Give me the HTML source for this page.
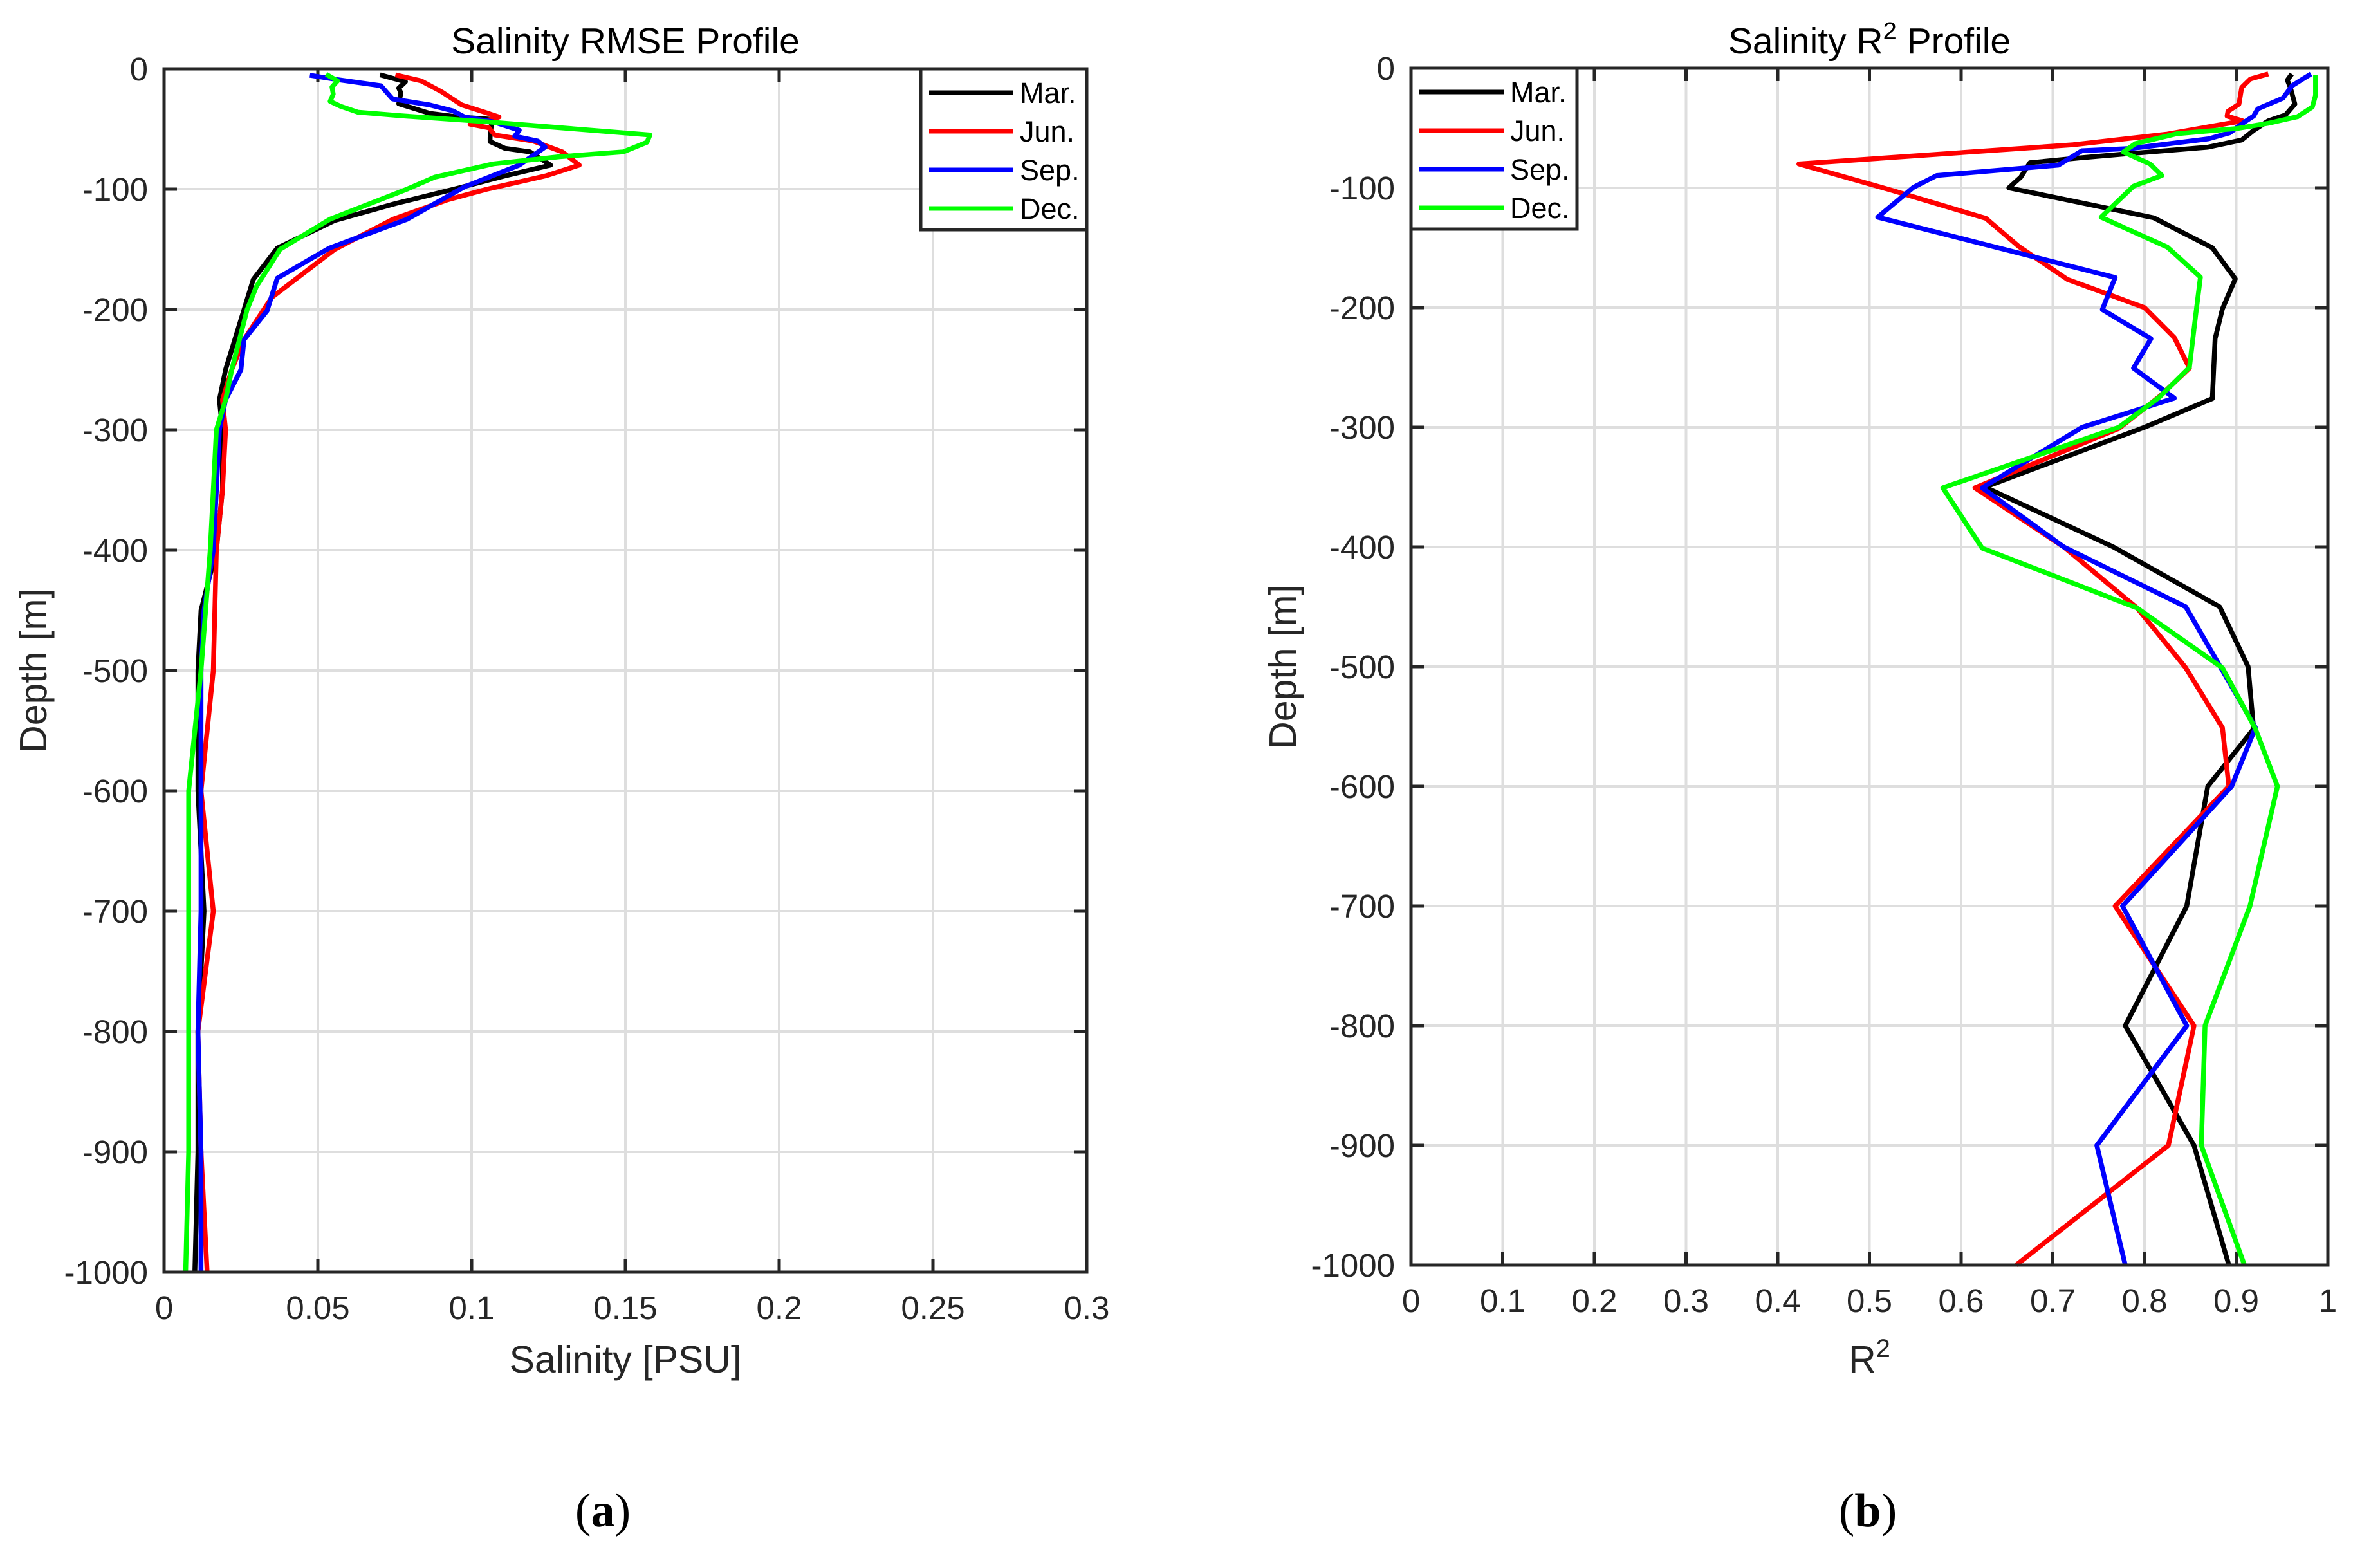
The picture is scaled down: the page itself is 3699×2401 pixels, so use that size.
<!DOCTYPE html>
<html><head><meta charset="utf-8">
<style>
html,body{margin:0;padding:0;background:#fff;}
svg{display:block;font-family:"Liberation Sans",Arial,sans-serif;}
</style></head>
<body>
<svg id="fig" width="3699" height="2401" viewBox="0 0 3699 2401" xmlns="http://www.w3.org/2000/svg">
<g id="pa"></g>
<g id="pb"></g>
<text x="937" y="2372" text-anchor="middle" font-family="Liberation Serif,serif" font-size="74">(<tspan font-weight="bold">a</tspan>)</text>
<text x="2903" y="2372" text-anchor="middle" font-family="Liberation Serif,serif" font-size="74">(<tspan font-weight="bold">b</tspan>)</text>
</svg>
<script>
// ---- Panel (a) data: Salinity RMSE ----
const seriesNames = ["Mar.","Jun.","Sep.","Dec."];
const seriesColors = ["#000000","#ff0000","#0000ff","#00ff00"];
const rmseMarVal = [0.0702,0.0785,0.0763,0.077,0.0763,0.0864,0.0958,0.1066,0.106,0.106,0.1108,0.119,0.1257,0.1108,0.0958,0.0752,0.0555,0.0368,0.029,0.026,0.020,0.018,0.019,0.019,0.017,0.012,0.011,0.011,0.013,0.011,0.011,0.010];
const rmseMarDep = [-5,-10.7,-16,-20,-29,-37,-40,-42,-57,-60.5,-66,-69,-80,-89,-99,-112,-126,-149,-175,-200,-250,-275,-300,-350,-400,-450,-500,-600,-700,-800,-900,-1000];
const rmseJunVal = [0.0752,0.0836,0.0902,0.0968,0.1042,0.1089,0.1062,0.0995,0.1056,0.1075,0.120,0.1295,0.135,0.124,0.105,0.092,0.0744,0.0555,0.035,0.026,0.022,0.019,0.020,0.019,0.017,0.016,0.012,0.016,0.011,0.012,0.014];
const rmseJunDep = [-5,-10,-19,-30,-36,-40,-42,-46,-49,-55,-60,-69,-80,-89,-100,-109,-125,-150,-190,-225,-250,-275,-300,-350,-400,-500,-600,-700,-800,-900,-1000];
const rmseSepVal = [0.0474,0.0565,0.0705,0.0743,0.0864,0.094,0.0977,0.107,0.1155,0.114,0.1215,0.1239,0.1155,0.0977,0.079,0.0537,0.0368,0.0335,0.026,0.025,0.020,0.018,0.017,0.016,0.013,0.012,0.012,0.012,0.011,0.012,0.012];
const rmseSepDep = [-5.3,-9,-14,-25,-30,-35,-40,-44,-51,-56,-60,-65,-80,-98,-125,-149,-174,-201,-225,-250,-275,-300,-350,-400,-450,-500,-600,-700,-800,-900,-1000];
const rmseDecVal = [0.0527,0.0564,0.0546,0.055,0.054,0.0573,0.063,0.077,0.105,0.158,0.157,0.1493,0.1286,0.107,0.088,0.079,0.0539,0.0377,0.030,0.027,0.022,0.020,0.017,0.015,0.012,0.008,0.008,0.008,0.008,0.007];
const rmseDecDep = [-4.5,-10,-15,-21,-27,-31,-36,-39,-44,-55,-61,-69,-73,-79,-90,-100,-125,-150,-181,-200,-250,-275,-300,-400,-500,-600,-700,-800,-900,-1000];
const rmseXTicks = ["0","0.05","0.1","0.15","0.2","0.25","0.3"];
// ---- Panel (b) data: Salinity R2 ----
const r2MarVal = [0.9606,0.9558,0.959,0.964,0.954,0.935,0.919,0.906,0.8687,0.7735,0.728,0.675,0.665,0.652,0.728,0.81,0.874,0.899,0.885,0.877,0.874,0.80,0.626,0.766,0.882,0.913,0.919,0.869,0.846,0.779,0.854,0.892];
const r2MarDep = [-4.8,-10,-16,-30,-39,-44,-52,-60,-66,-72,-75,-79,-91,-100,-112,-125,-150,-176,-201,-226,-276,-300,-350,-400,-450,-500,-552,-600,-700,-800,-900,-1000];
const r2JunVal = [0.935,0.9155,0.906,0.903,0.891,0.89,0.907,0.825,0.722,0.423,0.5225,0.627,0.663,0.716,0.800,0.8325,0.849,0.816,0.772,0.615,0.712,0.792,0.845,0.885,0.892,0.768,0.854,0.826,0.66];
const r2JunDep = [-4.8,-9,-16,-30,-36,-40,-44,-55,-64,-80,-101.6,-125.5,-149,-176.5,-200,-225,-250.6,-274.5,-301,-350.6,-400,-451,-501,-551,-600,-700,-800,-900,-1000];
const r2SepVal = [0.9816,0.972,0.961,0.951,0.9235,0.919,0.909,0.893,0.870,0.786,0.7316,0.706,0.5735,0.548,0.509,0.768,0.754,0.807,0.788,0.8325,0.732,0.623,0.712,0.845,0.921,0.895,0.776,0.846,0.748,0.779];
const r2SepDep = [-4.8,-9.3,-14.6,-25,-34,-40,-45,-54,-59,-67,-69,-81,-89.6,-99.5,-124.5,-174.9,-201.6,-226,-250.6,-275.7,-300,-350.6,-400,-450,-551,-600,-700,-800,-900,-1000];
const r2DecVal = [0.9865,0.9865,0.983,0.967,0.935,0.901,0.835,0.79,0.777,0.806,0.819,0.788,0.7526,0.825,0.861,0.856,0.849,0.816,0.772,0.58,0.623,0.792,0.885,0.921,0.945,0.915,0.866,0.862,0.909];
const r2DecDep = [-5.4,-22.7,-32.5,-40.5,-46,-50.4,-54.8,-63,-70,-80,-89.6,-98.6,-124.5,-149.5,-174.5,-205,-250,-275,-300,-350.6,-401,-451,-501,-552,-600,-700,-800,-900,-1000];
const r2XTicks = ["0","0.1","0.2","0.3","0.4","0.5","0.6","0.7","0.8","0.9","1"];
const depthTicks = ["0","-100","-200","-300","-400","-500","-600","-700","-800","-900","-1000"];

const NS="http://www.w3.org/2000/svg";
function mk(parent,tag,attrs){const e=document.createElementNS(NS,tag);for(const k in attrs)e.setAttribute(k,attrs[k]);parent.appendChild(e);return e;}

function panel(g,cfg){
  const L=cfg.L,R=cfg.R,T=cfg.T,B=cfg.B;
  const xs=v=>L+(v-cfg.xmin)/(cfg.xmax-cfg.xmin)*(R-L);
  const ys=d=>T+(0-d)/1000*(B-T);
  cfg.xticks.forEach(t=>{const v=parseFloat(t);const x=xs(v);
    if(v>cfg.xmin&&v<cfg.xmax){const l=mk(g,'line',{x1:x,x2:x,y1:T,y2:B,stroke:'#dedede','stroke-width':4});
    
    }
    const tk=mk(g,'path',{d:`M${x},${B}v-20M${x},${T}v20`,stroke:'#262626','stroke-width':5});
    
    
    const tx=mk(g,'text',{x:x,y:B+73,'text-anchor':'middle','font-size':51,fill:'#262626'});tx.textContent=t;
    
    
  });
  depthTicks.forEach(t=>{const d=parseFloat(t);const y=ys(d);
    if(d<0&&d>-1000){const l=mk(g,'line',{x1:L,x2:R,y1:y,y2:y,stroke:'#dedede','stroke-width':4});
    
    }
    const tk=mk(g,'path',{d:`M${L},${y}h20M${R},${y}h-20`,stroke:'#262626','stroke-width':5});
    
    
    const tx=mk(g,'text',{x:L-25,y:y+18,'text-anchor':'end','font-size':51,fill:'#262626'});tx.textContent=t;
    
    
  });
  cfg.series.forEach((s,i)=>{
    const pts=s.val.map((v,j)=>xs(v).toFixed(1)+','+ys(s.dep[j]).toFixed(1)).join(' ');
    const p=mk(g,'polyline',{points:pts,fill:'none',stroke:seriesColors[i],'stroke-width':7.5,'stroke-linejoin':'round'});
    
    
  });
  const fr=mk(g,'rect',{x:L,y:T,width:R-L,height:B-T,fill:'none',stroke:'#262626','stroke-width':5});
  
  
  const lg=mk(g,'g',{});
  
  
  mk(lg,'rect',{x:cfg.lgx,y:T,width:258,height:250,fill:'#fff',stroke:'#262626','stroke-width':5});
  seriesNames.forEach((n,i)=>{
    const y=T+37+i*60;
    const e=mk(lg,'g',{});
    
    
    mk(e,'line',{x1:cfg.lgx+13,x2:cfg.lgx+144,y1:y,y2:y,stroke:seriesColors[i],'stroke-width':7});
    const t=mk(e,'text',{x:cfg.lgx+154,y:y+16,'font-size':45,fill:'#000'});t.textContent=n;
  });
  const ti=mk(g,'text',{x:(L+R)/2,y:83,'text-anchor':'middle','font-size':57,fill:'#000'});
  
  
  if(cfg.r2){ti.innerHTML='Salinity R<tspan dy="-22" font-size="38">2</tspan><tspan dy="22"> Profile</tspan>';}
  else ti.textContent='Salinity RMSE Profile';
  const yl=mk(g,'text',{x:0,y:0,'text-anchor':'middle','font-size':59,fill:'#262626',transform:`translate(${cfg.ylx},${(T+B)/2}) rotate(-90)`});
  yl.textContent='Depth [m]';
  
  
  const xl=mk(g,'text',{x:(L+R)/2,y:2133,'text-anchor':'middle','font-size':59,fill:'#262626'});
  if(cfg.r2){xl.innerHTML='R<tspan dy="-24" font-size="40">2</tspan>';}else xl.textContent='Salinity [PSU]';
  
  
}

panel(document.getElementById('pa'),{L:255,R:1689,T:107,B:1977,xmin:0,xmax:0.3,xticks:rmseXTicks,lgx:1431,ylx:72,
  series:[{val:rmseMarVal,dep:rmseMarDep},{val:rmseJunVal,dep:rmseJunDep},{val:rmseSepVal,dep:rmseSepDep},{val:rmseDecVal,dep:rmseDecDep}]});
panel(document.getElementById('pb'),{L:2193,R:3618,T:106,B:1966,xmin:0,xmax:1,xticks:r2XTicks,lgx:2193,ylx:2014,r2:true,
  series:[{val:r2MarVal,dep:r2MarDep},{val:r2JunVal,dep:r2JunDep},{val:r2SepVal,dep:r2SepDep},{val:r2DecVal,dep:r2DecDep}]});
</script>
</body></html>
